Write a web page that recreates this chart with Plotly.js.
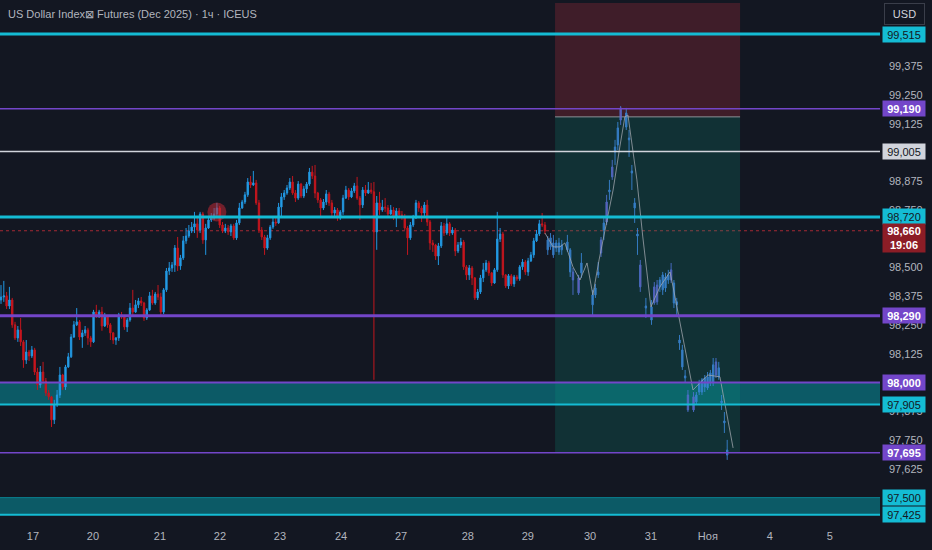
<!DOCTYPE html>
<html>
<head>
<meta charset="utf-8">
<script src="https://cdn.plot.ly/plotly-3.0.1.min.js"></script>
<style>
html,body{margin:0;padding:0;background:#131722;}
#chart{width:932px;height:550px;}
</style>
</head>
<body>
<div id="chart"></div>
<script>
// ---------- DATA ----------
const chartTitle = "US Dollar Index\u22A0 Futures (Dec 2025) \u00B7 1\u0447 \u00B7 ICEUS";

// hourly candles (real data)
const O = [98.359,98.372,98.377,98.333,98.359,98.251,98.194,98.229,98.177,98.098,
98.133,98.116,98.142,98.046,97.990,98.046,98.007,97.955,97.938,97.838,
97.903,97.946,98.033,97.981,98.068,98.112,98.198,98.251,98.264,98.198,
98.216,98.229,98.194,98.177,98.307,98.294,98.307,98.246,98.285,98.251,
98.216,98.185,98.194,98.294,98.285,98.242,98.272,98.324,98.307,98.338,
98.355,98.346,98.281,98.316,98.377,98.346,98.385,98.372,98.307,98.403,
98.485,98.498,98.511,98.585,98.507,98.542,98.616,98.637,98.659,98.676,
98.690,98.663,98.733,98.620,98.672,98.707,98.716,98.733,98.759,98.685,
98.659,98.672,98.655,98.681,98.629,98.694,98.759,98.785,98.816,98.872,
98.859,98.868,98.781,98.663,98.633,98.585,98.629,98.676,98.698,98.694,
98.763,98.807,98.824,98.846,98.872,98.824,98.802,98.863,98.811,98.842,
98.863,98.915,98.898,98.824,98.794,98.759,98.785,98.820,98.781,98.737,
98.750,98.716,98.742,98.802,98.837,98.807,98.833,98.855,98.802,98.772,
98.837,98.824,98.837,98.829,98.655,98.781,98.750,98.763,98.759,98.733,
98.750,98.720,98.746,98.729,98.720,98.672,98.629,98.685,98.716,98.781,
98.759,98.737,98.772,98.698,98.607,98.598,98.550,98.594,98.681,98.650,
98.690,98.650,98.663,98.572,98.598,98.611,98.503,98.468,98.498,98.455,
98.368,98.394,98.455,98.490,98.520,98.477,98.433,98.490,98.624,98.646,
98.468,98.420,98.464,98.429,98.459,98.451,98.503,98.524,98.481,98.529,
98.555,98.616,98.646,98.690,98.685];
const H = [98.424,98.442,98.394,98.416,98.368,98.264,98.246,98.281,98.185,98.185,
98.142,98.159,98.151,98.064,98.072,98.090,98.020,97.968,97.942,97.925,
97.968,98.068,98.038,98.077,98.129,98.211,98.268,98.324,98.272,98.229,
98.246,98.238,98.203,98.316,98.338,98.316,98.329,98.303,98.290,98.259,
98.220,98.198,98.303,98.307,98.290,98.281,98.346,98.403,98.359,98.368,
98.372,98.351,98.324,98.394,98.403,98.394,98.424,98.390,98.411,98.498,
98.524,98.524,98.598,98.633,98.555,98.637,98.672,98.685,98.698,98.742,
98.716,98.742,98.742,98.690,98.724,98.737,98.759,98.781,98.768,98.698,
98.690,98.685,98.690,98.690,98.707,98.781,98.794,98.829,98.889,98.898,
98.920,98.881,98.794,98.676,98.642,98.642,98.685,98.716,98.716,98.781,
98.824,98.837,98.859,98.889,98.898,98.837,98.876,98.868,98.855,98.872,
98.933,98.942,98.946,98.829,98.802,98.798,98.837,98.829,98.794,98.763,
98.759,98.750,98.816,98.855,98.846,98.846,98.868,98.894,98.811,98.850,
98.859,98.872,98.868,98.872,98.811,98.829,98.794,98.802,98.772,98.772,
98.763,98.759,98.759,98.746,98.733,98.681,98.698,98.729,98.794,98.789,
98.768,98.785,98.794,98.707,98.620,98.603,98.607,98.698,98.694,98.716,
98.698,98.676,98.672,98.611,98.629,98.620,98.511,98.511,98.507,98.459,
98.407,98.468,98.520,98.533,98.529,98.481,98.498,98.742,98.672,98.655,
98.472,98.472,98.472,98.468,98.468,98.511,98.537,98.533,98.542,98.568,
98.629,98.663,98.707,98.737,98.698];
const L = [98.342,98.351,98.320,98.320,98.238,98.185,98.177,98.159,98.064,98.081,
98.094,98.107,98.033,97.968,97.977,97.994,97.942,97.925,97.807,97.820,
97.894,97.933,97.968,97.968,98.064,98.107,98.194,98.246,98.185,98.151,
98.203,98.164,98.155,98.172,98.281,98.281,98.225,98.242,98.238,98.185,
98.168,98.164,98.181,98.277,98.229,98.220,98.264,98.294,98.303,98.324,
98.333,98.268,98.272,98.311,98.338,98.338,98.359,98.285,98.298,98.394,
98.468,98.481,98.481,98.485,98.490,98.533,98.603,98.629,98.650,98.650,
98.629,98.650,98.603,98.555,98.668,98.698,98.707,98.724,98.672,98.650,
98.650,98.642,98.637,98.620,98.620,98.685,98.755,98.776,98.807,98.846,
98.855,98.772,98.650,98.620,98.555,98.577,98.620,98.668,98.681,98.690,
98.716,98.794,98.816,98.837,98.816,98.785,98.794,98.802,98.802,98.824,
98.855,98.885,98.802,98.781,98.720,98.750,98.772,98.768,98.724,98.716,
98.703,98.707,98.729,98.798,98.794,98.802,98.824,98.794,98.707,98.759,
98.811,98.820,98.820,98.012,98.577,98.729,98.742,98.742,98.724,98.729,
98.707,98.676,98.716,98.707,98.663,98.555,98.620,98.676,98.711,98.742,
98.698,98.724,98.681,98.577,98.568,98.533,98.511,98.585,98.637,98.642,
98.637,98.642,98.550,98.563,98.585,98.490,98.446,98.446,98.424,98.359,
98.359,98.385,98.437,98.481,98.464,98.420,98.429,98.481,98.611,98.455,
98.411,98.407,98.420,98.416,98.442,98.442,98.490,98.468,98.464,98.524,
98.542,98.611,98.637,98.676,98.646];
const C = [98.372,98.377,98.333,98.359,98.251,98.194,98.229,98.177,98.098,98.133,
98.116,98.142,98.046,97.990,98.046,98.007,97.955,97.938,97.838,97.903,
97.946,98.033,97.981,98.068,98.112,98.198,98.251,98.264,98.198,98.216,
98.229,98.194,98.177,98.307,98.294,98.307,98.246,98.285,98.251,98.216,
98.185,98.194,98.294,98.285,98.242,98.272,98.324,98.307,98.338,98.355,
98.346,98.281,98.316,98.377,98.346,98.385,98.372,98.307,98.403,98.485,
98.498,98.511,98.585,98.507,98.542,98.616,98.637,98.659,98.676,98.690,
98.663,98.733,98.620,98.672,98.707,98.716,98.733,98.759,98.685,98.659,
98.672,98.655,98.681,98.629,98.694,98.759,98.785,98.816,98.872,98.859,
98.868,98.781,98.663,98.633,98.585,98.629,98.676,98.698,98.694,98.763,
98.807,98.824,98.846,98.872,98.824,98.802,98.863,98.811,98.842,98.863,
98.915,98.898,98.824,98.794,98.759,98.785,98.820,98.781,98.737,98.750,
98.716,98.742,98.802,98.837,98.807,98.833,98.855,98.802,98.772,98.837,
98.824,98.837,98.829,98.655,98.781,98.750,98.763,98.759,98.733,98.750,
98.720,98.746,98.729,98.720,98.672,98.629,98.685,98.716,98.781,98.759,
98.737,98.772,98.698,98.607,98.598,98.550,98.594,98.681,98.650,98.690,
98.650,98.663,98.572,98.598,98.611,98.503,98.468,98.498,98.455,98.368,
98.394,98.455,98.490,98.520,98.477,98.433,98.490,98.624,98.646,98.468,
98.420,98.464,98.429,98.459,98.451,98.503,98.524,98.481,98.529,98.555,
98.616,98.646,98.690,98.685,98.659];

// projected bars pattern (drawing)
const projIdx = [195,196,197,198,199,200,202,203,204,206,207,211,212,213,214,215,216,217,218,219,220,221,223,224,225,226,227,228,230,232,233,234,235,236,237,238,239,240,241,242,243,244,245,247,248,249,250,251,252,253,254,255,256,257,258,259];
const projO = [98.577,98.590,98.555,98.585,98.568,98.577,98.577,98.481,98.481,98.455,98.477,98.338,98.381,98.468,98.620,98.663,98.785,98.829,98.937,99.002,99.033,99.194,99.111,99.055,98.911,98.759,98.637,98.511,98.324,98.272,98.416,98.424,98.416,98.403,98.411,98.446,98.490,98.346,98.338,98.172,98.068,98.020,97.946,97.938,97.916,97.959,97.959,97.981,97.977,97.999,97.999,98.090,98.025,97.912,97.825,97.685];
const projH = [98.637,98.650,98.642,98.620,98.629,98.620,98.642,98.585,98.498,98.468,98.563,98.403,98.429,98.524,98.633,98.716,98.816,98.881,98.968,99.055,99.133,99.202,99.194,99.098,98.946,98.802,98.672,98.533,98.368,98.359,98.437,98.446,98.459,98.481,98.477,98.490,98.520,98.446,98.368,98.207,98.164,98.055,97.968,97.959,97.959,98.012,98.020,98.033,98.046,98.055,98.107,98.107,98.090,97.946,97.872,97.751];
const projL = [98.555,98.577,98.542,98.568,98.555,98.555,98.568,98.459,98.381,98.381,98.455,98.294,98.368,98.455,98.546,98.620,98.685,98.794,98.881,98.946,99.011,99.120,99.098,98.981,98.837,98.694,98.555,98.394,98.281,98.251,98.338,98.338,98.394,98.381,98.394,98.429,98.433,98.324,98.294,98.142,98.055,97.999,97.872,97.872,97.903,97.946,97.946,97.959,97.968,97.985,97.985,98.020,98.012,97.881,97.781,97.664];
const projC = [98.620,98.629,98.607,98.607,98.607,98.598,98.611,98.577,98.446,98.390,98.520,98.381,98.411,98.481,98.563,98.694,98.698,98.837,98.894,99.024,99.107,99.141,99.172,99.063,98.920,98.781,98.646,98.416,98.333,98.329,98.346,98.351,98.446,98.468,98.459,98.468,98.446,98.433,98.351,98.185,98.142,98.029,97.881,97.881,97.946,97.999,98.012,98.020,98.025,98.042,98.077,98.033,98.064,97.920,97.833,97.707];

// projected path (grey line)
const pathIdx = [194.0,196.9,199.4,201.1,204.0,206.5,209.0,211.1,213.3,216.1,218.3,220.7,222.5,223.6,226.8,228.9,231.8,235.0,238.6,239.7,242.2,246.8,249.3,252.1,256.4,261.1];
const pathPrice = [98.650,98.590,98.590,98.607,98.503,98.446,98.520,98.381,98.533,98.707,98.837,99.024,99.155,99.163,98.881,98.633,98.329,98.416,98.481,98.416,98.259,97.968,97.999,98.033,98.025,97.716];

// highlight circle
const markIdx = [77];
const markPrice = [98.742];

// horizontal levels
const levelPrices = [99.515, 99.190, 99.005, 98.720, 98.290, 98.000, 97.905, 97.695, 97.500, 97.425];
const levelKinds  = ['cyan','purple','white','cyan','purple','purple','cyan','purple','teal','cyan'];
const levelWidths = [3, 1.5, 1.5, 3, 3, 2, 2, 1.5, 1, 2];

// zones
const zoneTop = [98.000, 97.500];
const zoneBottom = [97.905, 97.425];

// short position tool
const posStartIdx = 197.6, posEndIdx = 263.6;
const posStop = 99.650, posEntry = 99.155, posTarget = 97.694;

// current price
const lastPrice = 98.660;
const lastTime = "19:06";

// axes
const dayTickIdx = [11.4, 32.8, 56.7, 78.1, 99.5, 121.3, 142.7, 166.5, 187.9, 210.1, 231.8, 252.1, 274.2, 295.6];
const dayTickText = ["17","20","21","22","23","24","27","28","29","30","31","\u041D\u043E\u044F","4","5"];
const yTickVals = [97.625,97.75,97.875,98.125,98.25,98.375,98.5,98.75,98.875,99.125,99.25,99.375];

// ---------- STYLE ----------
const FONT = "'Liberation Sans', Arial, sans-serif";
const BG = '#131722';
const COLORS = {cyan:'#14bcd4', purple:'#7346c9', white:'#d1d4dc', teal:'#0a7f8f'};
const fmt = p => p.toFixed(3).replace('.', ',');

const idx = C.map((_, i) => i);

const traces = [
  {
    type:'candlestick', x: idx, open: O, high: H, low: L, close: C,
    increasing:{line:{color:'#2196e0', width:1}, fillcolor:'#2aa4e8'},
    decreasing:{line:{color:'#c2161e', width:1}, fillcolor:'#d0151d'},
    whiskerwidth:0, hoverinfo:'skip', showlegend:false
  },
  {
    type:'candlestick', x: projIdx, open: projO, high: projH, low: projL, close: projC,
    increasing:{line:{color:'#3a86d6', width:1}, fillcolor:'#3a8ede'},
    decreasing:{line:{color:'#4f72d2', width:1}, fillcolor:'#8a57c2'},
    whiskerwidth:0, hoverinfo:'skip', showlegend:false, opacity:0.88
  },
  {
    type:'scatter', mode:'lines', x: pathIdx, y: pathPrice,
    line:{color:'rgba(165,170,178,0.75)', width:1}, hoverinfo:'skip', showlegend:false
  },
  {
    type:'scatter', mode:'markers', x: markIdx, y: markPrice,
    marker:{size:19, color:'rgba(190,40,52,0.55)', line:{width:0}}, hoverinfo:'skip', showlegend:false
  }
];

const shapes = [];
// position tool
shapes.push({type:'rect', xref:'x', yref:'y', x0:posStartIdx, x1:posEndIdx, y0:posEntry, y1:posStop,
  fillcolor:'rgba(242,54,69,0.2)', line:{width:0}, layer:'below'});
shapes.push({type:'rect', xref:'x', yref:'y', x0:posStartIdx, x1:posEndIdx, y0:posTarget, y1:posEntry,
  fillcolor:'rgba(8,153,129,0.2)', line:{width:0}, layer:'below'});
shapes.push({type:'line', xref:'x', yref:'y', x0:posStartIdx, x1:posEndIdx, y0:posEntry, y1:posEntry,
  line:{color:'rgba(178,181,190,0.75)', width:1}, layer:'below'});
// zones
zoneTop.forEach((t, i) => {
  shapes.push({type:'rect', xref:'paper', yref:'y', x0:0, x1:1, y0:zoneBottom[i], y1:t,
    fillcolor:'#0c5a66', line:{width:0}, layer:'below'});
});
// current price dotted line
shapes.push({type:'line', xref:'paper', yref:'y', x0:0, x1:1, y0:lastPrice, y1:lastPrice,
  line:{color:'#a52a34', width:1, dash:'dot'}, layer:'below'});
// levels
levelPrices.forEach((p, i) => {
  shapes.push({type:'line', xref:'paper', yref:'y', x0:0, x1:1, y0:p, y1:p,
    line:{color:COLORS[levelKinds[i]], width:levelWidths[i]}, layer:'above'});
});

const annotations = [];
annotations.push({xref:'paper', yref:'paper', x:0, y:1, xanchor:'left', yanchor:'top', xshift:6, yshift:-6,
  text: chartTitle, showarrow:false, font:{family:FONT, size:11, color:'#b2b5be'}});
annotations.push({xref:'paper', yref:'paper', x:1, y:1, xanchor:'left', yanchor:'top', xshift:4, yshift:-3,
  text:'USD', showarrow:false, width:37, height:18, borderpad:1, bgcolor:BG,
  bordercolor:'#3a3e4a', borderwidth:1, font:{family:FONT, size:11, color:'#d1d4dc'}});

const tagStyle = {
  cyan:{bg:'#14bcd4', fg:'#131722', b:false},
  purple:{bg:'#7346c9', fg:'#ffffff', b:true},
  white:{bg:'#d1d4dc', fg:'#131722', b:false},
  teal:{bg:'#14bcd4', fg:'#131722', b:false}
};
levelPrices.forEach((p, i) => {
  const s = tagStyle[levelKinds[i]];
  annotations.push({xref:'paper', yref:'y', x:1, y:p, xanchor:'left', yanchor:'middle', xshift:2,
    text: s.b ? '<b>' + fmt(p) + '</b>' : fmt(p), showarrow:false, bgcolor:s.bg, width:40, height:13, borderpad:1,
    font:{family:FONT, size:11, color:s.fg}});
});
annotations.push({xref:'paper', yref:'y', x:1, y:lastPrice, xanchor:'left', yanchor:'top', xshift:2, yshift:8,
  text: '<b>' + fmt(lastPrice) + '<br>' + lastTime + '</b>', showarrow:false, bgcolor:'#8c1d26', width:40, height:26, borderpad:1,
  font:{family:FONT, size:11, color:'#ffffff'}});

const layout = {
  width:932, height:550,
  paper_bgcolor:BG, plot_bgcolor:BG,
  margin:{l:0, r:52, t:0, b:28},
  showlegend:false,
  font:{family:FONT, color:'#b2b5be', size:11},
  xaxis:{
    range:[-0.36, 313.5], tickmode:'array', tickvals:dayTickIdx, ticktext:dayTickText,
    showgrid:false, zeroline:false, showline:false, ticks:'', ticklabelstandoff:6,
    rangeslider:{visible:false}, tickfont:{family:FONT, size:11, color:'#b2b5be'}, fixedrange:true
  },
  yaxis:{
    side:'right', range:[97.394, 99.663], tickmode:'array', tickvals:yTickVals,
    ticktext:yTickVals.map(fmt), showgrid:false, zeroline:false, showline:false, ticks:'',
    ticklabelstandoff:8, tickfont:{family:FONT, size:11, color:'#b2b5be'}, fixedrange:true
  },
  shapes: shapes,
  annotations: annotations,
  hovermode:false
};

Plotly.newPlot('chart', traces, layout, {displayModeBar:false, staticPlot:true});
</script>
</body>
</html>
